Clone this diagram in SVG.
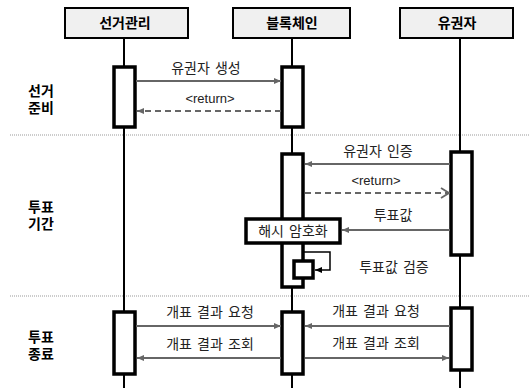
<svg xmlns="http://www.w3.org/2000/svg" width="529" height="388" viewBox="0 0 529 388">
<style>
.hdr{fill:#f0f0f0;stroke:#000;stroke-width:2}
.ht{font-family:"Liberation Sans","Noto Sans CJK KR",sans-serif;font-size:14px;font-weight:bold;text-anchor:middle;fill:#000}
.life{stroke:#000;stroke-width:2}
.act{fill:#fff;stroke:#000;stroke-width:3.5}
.msg{stroke:#666;stroke-width:2;fill:none}
.ret{stroke:#666;stroke-width:2;fill:none;stroke-dasharray:6,4}
.t{font-family:"Noto Sans CJK KR","Liberation Sans",sans-serif;font-size:14px;word-spacing:2px;text-anchor:middle;fill:#222}
.r{font-family:"Liberation Sans","Noto Sans CJK KR",sans-serif;font-size:13px;text-anchor:middle;fill:#222}
.sec{font-family:"Liberation Sans","Noto Sans CJK KR",sans-serif;font-size:14px;font-weight:bold;fill:#000}
.sep{stroke:#999;stroke-width:1;stroke-dasharray:1,1}
</style>
<defs>
<marker id="ah" markerWidth="8" markerHeight="8" refX="7" refY="4" orient="auto" markerUnits="userSpaceOnUse">
<path d="M0,1 L7,4 L0,7 z" fill="#666"/>
</marker>
<marker id="ao" markerWidth="10" markerHeight="12" refX="9" refY="6" orient="auto" markerUnits="userSpaceOnUse">
<path d="M1,1 L9,6 L1,11" fill="none" stroke="#666" stroke-width="1.8"/>
</marker>
<marker id="ak" markerWidth="8" markerHeight="8" refX="7" refY="4" orient="auto" markerUnits="userSpaceOnUse">
<path d="M0,1 L7,4 L0,7 z" fill="#000"/>
</marker>
</defs>
<rect width="529" height="388" fill="#fff"/>
<g id="separators">
<line class="sep" x1="10" y1="135" x2="529" y2="135"/>
<line class="sep" x1="10" y1="296" x2="529" y2="296"/>
</g>
<g id="sections">
<text class="sec" x="28" y="96">선거</text>
<text class="sec" x="28" y="113">준비</text>
<text class="sec" x="28" y="212">투표</text>
<text class="sec" x="28" y="229">기간</text>
<text class="sec" x="28" y="342">투표</text>
<text class="sec" x="28" y="359">종료</text>
</g>
<g id="node-election">
<rect class="hdr" x="65" y="8" width="123" height="30"/>
<text class="ht" x="125" y="28">선거관리</text>
<line class="life" x1="124" y1="38" x2="124" y2="388"/>
<rect class="act" x="114" y="67" width="21" height="60"/>
<rect class="act" x="114" y="312" width="21" height="62"/>
</g>
<g id="node-blockchain">
<rect class="hdr" x="233" y="8" width="117" height="30"/>
<text class="ht" x="292" y="28">블록체인</text>
<line class="life" x1="292" y1="38" x2="292" y2="388"/>
<rect class="act" x="282" y="67" width="21" height="60"/>
<rect class="act" x="282" y="154" width="21" height="133"/>
<rect class="act" x="282" y="312" width="21" height="62"/>
</g>
<g id="node-voter">
<rect class="hdr" x="400" y="8" width="113" height="30"/>
<text class="ht" x="457" y="28">유권자</text>
<line class="life" x1="460" y1="38" x2="460" y2="388"/>
<rect class="act" x="451" y="152" width="21" height="103"/>
<rect class="act" x="451" y="308" width="21" height="62"/>
</g>
<g id="node-hash">
<rect x="246" y="219" width="94" height="24" fill="#fff" stroke="#000" stroke-width="3.5"/>
<text class="t" x="293" y="236">해시 암호화</text>
</g>
<g id="node-selfcheck">
<rect x="294" y="261" width="19" height="17" fill="#fff" stroke="#000" stroke-width="3.5"/>
</g>
<g id="connectors">
<line class="msg" x1="136" y1="81" x2="281" y2="81" marker-end="url(#ah)"/>
<text class="t" x="206" y="73">유권자 생성</text>
<line class="ret" x1="281" y1="111" x2="137" y2="111" marker-end="url(#ah)"/>
<text class="r" x="210" y="103">&lt;return&gt;</text>

<line class="msg" x1="450" y1="164" x2="305" y2="164" marker-end="url(#ah)"/>
<text class="t" x="378" y="156">유권자 인증</text>
<line class="ret" x1="305" y1="193" x2="449" y2="193" marker-end="url(#ao)"/>
<text class="r" x="376" y="185">&lt;return&gt;</text>
<line class="msg" x1="450" y1="230" x2="342" y2="230" marker-end="url(#ah)"/>
<text class="t" x="393" y="220">투표값</text>
<polyline points="304,252 330,252 330,270 315,270" fill="none" stroke="#000" stroke-width="1.5" marker-end="url(#ak)"/>
<text class="t" x="394" y="272">투표값 검증</text>

<line class="msg" x1="136" y1="326" x2="281" y2="326" marker-end="url(#ah)"/>
<text class="t" x="210" y="317">개표 결과 요청</text>
<line class="msg" x1="450" y1="326" x2="305" y2="326" marker-end="url(#ah)"/>
<text class="t" x="376" y="316">개표 결과 요청</text>
<line class="msg" x1="281" y1="358" x2="137" y2="358" marker-end="url(#ah)"/>
<text class="t" x="210" y="349">개표 결과 조회</text>
<line class="msg" x1="305" y1="358" x2="449" y2="358" marker-end="url(#ah)"/>
<text class="t" x="376" y="348">개표 결과 조회</text>
</g>
</svg>
